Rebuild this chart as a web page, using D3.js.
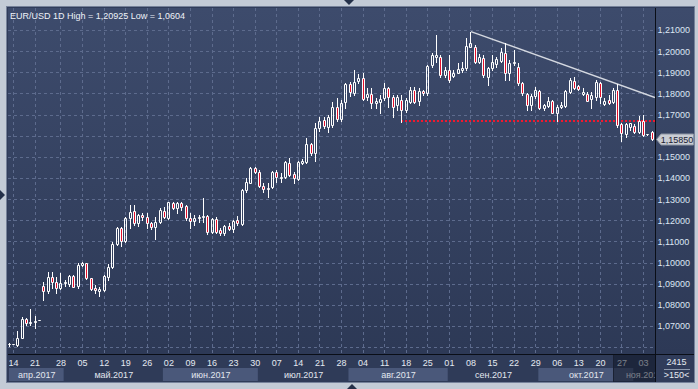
<!DOCTYPE html>
<html><head><meta charset="utf-8">
<script src="https://cdn.jsdelivr.net/npm/d3@7"></script>
<style>
html,body{margin:0;padding:0;background:#c3cbd6;}
svg{display:block;font-family:"Liberation Sans",Arial,sans-serif;}
</style></head><body>
<svg id="c" width="698" height="389"></svg>
<script>
// ---------- DATA ----------
const dates = [
"2017-04-13","2017-04-14","2017-04-17","2017-04-18","2017-04-19","2017-04-20","2017-04-21","2017-04-23",
"2017-04-24","2017-04-25","2017-04-26","2017-04-27","2017-04-28",
"2017-05-01","2017-05-02","2017-05-03","2017-05-04","2017-05-05",
"2017-05-08","2017-05-09","2017-05-10","2017-05-11","2017-05-12",
"2017-05-15","2017-05-16","2017-05-17","2017-05-18","2017-05-19",
"2017-05-22","2017-05-23","2017-05-24","2017-05-25","2017-05-26",
"2017-05-29","2017-05-30","2017-05-31","2017-06-01","2017-06-02",
"2017-06-05","2017-06-06","2017-06-07","2017-06-08","2017-06-09",
"2017-06-12","2017-06-13","2017-06-14","2017-06-15","2017-06-16",
"2017-06-19","2017-06-20","2017-06-21","2017-06-22","2017-06-23",
"2017-06-26","2017-06-27","2017-06-28","2017-06-29","2017-06-30",
"2017-07-03","2017-07-04","2017-07-05","2017-07-06","2017-07-07",
"2017-07-10","2017-07-11","2017-07-12","2017-07-13","2017-07-14",
"2017-07-17","2017-07-18","2017-07-19","2017-07-20","2017-07-21",
"2017-07-24","2017-07-25","2017-07-26","2017-07-27","2017-07-28",
"2017-07-31","2017-08-01","2017-08-02","2017-08-03","2017-08-04",
"2017-08-07","2017-08-08","2017-08-09","2017-08-10","2017-08-11",
"2017-08-14","2017-08-15","2017-08-16","2017-08-17","2017-08-18",
"2017-08-21","2017-08-22","2017-08-23","2017-08-24","2017-08-25",
"2017-08-28","2017-08-29","2017-08-30","2017-08-31","2017-09-01",
"2017-09-04","2017-09-05","2017-09-06","2017-09-07","2017-09-08",
"2017-09-11","2017-09-12","2017-09-13","2017-09-14","2017-09-15",
"2017-09-18","2017-09-19","2017-09-20","2017-09-21","2017-09-22",
"2017-09-25","2017-09-26","2017-09-27","2017-09-28","2017-09-29",
"2017-10-02","2017-10-03","2017-10-04","2017-10-05","2017-10-06",
"2017-10-09","2017-10-10","2017-10-11","2017-10-12","2017-10-13",
"2017-10-16","2017-10-17","2017-10-18","2017-10-19","2017-10-20",
"2017-10-23","2017-10-24","2017-10-25","2017-10-26","2017-10-27",
"2017-10-30","2017-10-31","2017-11-01","2017-11-02","2017-11-03",
"2017-11-05","2017-11-06"];

const open = [
1.0617,1.0616,1.0612,1.0645,1.0731,1.0713,1.0718,1.0727,
1.0887,1.0866,1.0933,1.0907,1.0878,
1.0902,1.0898,1.0936,1.0890,1.0988,
1.0999,1.0925,1.0878,1.0866,1.0870,
1.0930,1.0977,1.1088,1.1162,1.1104,
1.1209,1.1244,1.1185,1.1225,1.1214,
1.1189,1.1167,1.1193,1.1245,1.1209,
1.1280,1.1256,1.1280,1.1267,1.1211,
1.1198,1.1209,1.1215,1.1220,1.1146,
1.1204,1.1154,1.1138,1.1173,1.1157,
1.1201,1.1182,1.1343,1.1378,1.1446,
1.1430,1.1362,1.1348,1.1356,1.1430,
1.1401,1.1403,1.1469,1.1419,1.1394,
1.1472,1.1477,1.1559,1.1517,1.1635,
1.1674,1.1643,1.1651,1.1737,1.1677,
1.1761,1.1843,1.1802,1.1857,1.1871,
1.1785,1.1796,1.1753,1.1761,1.1777,
1.1824,1.1785,1.1745,1.1769,1.1722,
1.1761,1.1816,1.1764,1.1811,1.1800,
1.1935,1.1974,1.1971,1.1887,1.1911,
1.1883,1.1898,1.1911,1.1919,1.2021,
1.2021,1.1950,1.1966,1.1879,1.1919,
1.1938,1.1955,1.1993,1.1895,1.1942,
1.1927,1.1851,1.1798,1.1747,1.1788,
1.1812,1.1733,1.1740,1.1764,1.1709,
1.1735,1.1742,1.1808,1.1860,1.1835,
1.1796,1.1797,1.1772,1.1785,1.1848,
1.1750,1.1769,1.1761,1.1816,1.1654,
1.1606,1.1643,1.1647,1.1619,1.1668,
1.1606,1.1619];

const high = [
1.0620,1.0617,1.0676,1.0744,1.0740,1.0778,1.0745,1.0729,
1.0906,1.0957,1.0954,1.0933,1.0949,
1.0917,1.0941,1.0941,1.0996,1.1004,
1.1000,1.0927,1.0894,1.0886,1.0941,
1.0993,1.1099,1.1170,1.1170,1.1214,
1.1272,1.1272,1.1230,1.1233,1.1236,
1.1193,1.1214,1.1256,1.1264,1.1288,
1.1288,1.1288,1.1288,1.1272,1.1232,
1.1223,1.1225,1.1304,1.1225,1.1209,
1.1214,1.1162,1.1178,1.1185,1.1201,
1.1220,1.1350,1.1398,1.1454,1.1454,
1.1438,1.1378,1.1375,1.1432,1.1438,
1.1422,1.1480,1.1493,1.1430,1.1482,
1.1488,1.1588,1.1564,1.1660,1.1690,
1.1690,1.1700,1.1760,1.1780,1.1768,
1.1848,1.1856,1.1911,1.1893,1.1895,
1.1824,1.1824,1.1777,1.1792,1.1848,
1.1832,1.1793,1.1793,1.1793,1.1777,
1.1832,1.1832,1.1824,1.1816,1.1934,
1.1990,1.2076,1.1982,1.1927,1.1982,
1.1911,1.1942,1.1950,1.2063,1.20925,
1.2029,1.1986,1.1982,1.1927,1.1982,
1.1974,1.2013,1.2037,1.1958,1.2005,
1.1942,1.1856,1.1804,1.1797,1.1829,
1.1816,1.1750,1.1785,1.1769,1.1745,
1.1761,1.1816,1.1875,1.1879,1.1840,
1.1824,1.1808,1.1808,1.1863,1.1852,
1.1777,1.1793,1.1824,1.1844,1.1658,
1.1658,1.1662,1.1654,1.1695,1.1696,
1.1607,1.1623];

const low = [
1.0604,1.0615,1.0607,1.0644,1.0704,1.0706,1.0690,1.0726,
1.0825,1.0854,1.0880,1.0854,1.0873,
1.0890,1.0891,1.0883,1.0878,1.0984,
1.0920,1.0870,1.0856,1.0842,1.0866,
1.0917,1.0973,1.1083,1.1078,1.1099,
1.1162,1.1178,1.1173,1.1201,1.1162,
1.1157,1.1110,1.1185,1.1209,1.1204,
1.1252,1.1236,1.1249,1.1201,1.1165,
1.1179,1.1190,1.1193,1.1135,1.1141,
1.1141,1.1130,1.1130,1.1154,1.1146,
1.1178,1.1178,1.1335,1.1375,1.1425,
1.1356,1.1335,1.1309,1.1351,1.1383,
1.1383,1.1398,1.1410,1.1375,1.1391,
1.1465,1.1473,1.1509,1.1480,1.1622,
1.1635,1.1616,1.1643,1.1670,1.1670,
1.1729,1.1788,1.1793,1.1848,1.1769,
1.1769,1.1729,1.1729,1.1706,1.1769,
1.1737,1.1690,1.1722,1.1664,1.1714,
1.1753,1.1753,1.1745,1.1793,1.1793,
1.1927,1.1950,1.1879,1.1879,1.1856,
1.1879,1.1895,1.1903,1.1911,1.2018,
1.1942,1.1942,1.1879,1.1840,1.1911,
1.1927,1.1950,1.1863,1.1863,1.1934,
1.1840,1.1792,1.1721,1.1720,1.1780,
1.1726,1.1720,1.1734,1.1706,1.1669,
1.1729,1.1737,1.1800,1.1823,1.1816,
1.1793,1.1762,1.1729,1.1769,1.1757,
1.1745,1.1750,1.1756,1.1643,1.1576,
1.1595,1.1627,1.1611,1.1611,1.1599,
1.1605,1.1581];

const close = [
1.0616,1.0616,1.0645,1.0733,1.0714,1.0719,1.0725,1.0728,
1.0866,1.0933,1.0906,1.0878,1.0904,
1.0909,1.0936,1.0886,1.0988,1.0999,
1.0925,1.0876,1.0868,1.0873,1.0936,
1.0977,1.1088,1.1162,1.1104,1.1209,
1.1241,1.1185,1.1225,1.1214,1.1185,
1.1167,1.1193,1.1248,1.1217,1.1285,
1.1256,1.1280,1.1261,1.1209,1.1198,
1.1211,1.1217,1.1221,1.1146,1.1204,
1.1146,1.1138,1.1173,1.1157,1.1198,
1.1185,1.1345,1.1383,1.1446,1.1430,
1.1362,1.1346,1.1352,1.1430,1.1403,
1.1406,1.1477,1.1414,1.1398,1.1477,
1.1480,1.1559,1.1517,1.1638,1.1669,
1.1646,1.1688,1.1737,1.1679,1.1753,
1.1843,1.1805,1.1856,1.1872,1.1772,
1.1797,1.1753,1.1766,1.1772,1.1824,
1.1785,1.1737,1.1785,1.1722,1.1769,
1.1816,1.1761,1.1811,1.1800,1.1930,
1.1982,1.1982,1.1887,1.1911,1.1863,
1.1895,1.1914,1.1919,1.2022,1.2037,
1.1950,1.1974,1.1887,1.1919,1.1950,
1.1961,1.1998,1.1895,1.1942,1.1950,
1.1848,1.1800,1.1747,1.1788,1.1816,
1.1733,1.1745,1.1764,1.1709,1.1737,
1.1745,1.1811,1.1863,1.1827,1.1821,
1.1806,1.1764,1.1792,1.1856,1.1785,
1.1764,1.1756,1.1816,1.1651,1.1611,
1.1654,1.1658,1.1619,1.1671,1.1604,
1.1606,1.1585];

const yTicks = [1.07,1.08,1.09,1.10,1.11,1.12,1.13,1.14,1.15,1.16,1.17,1.18,1.19,1.20,1.21];
const gridLevels = [1.06,1.07,1.08,1.09,1.10,1.11,1.12,1.13,1.14,1.15,1.16,1.17,1.18,1.19,1.20,1.21];
const months = ["2017-04","2017-05","2017-06","2017-07","2017-08","2017-09","2017-10","2017-11"];
const monthLabels = ["апр.2017","май.2017","июн.2017","июл.2017","авг.2017","сен.2017","окт.2017","ноя.2017"];
const trendDates = ["2017-09-08","2017-10-26"];
const trendValues = [1.20925,1.1844];
const supportFrom = "2017-08-17";
const supportLevel = 1.1668;
const shadeFrom = "2017-10-25";
const titlePrefix = "EUR/USD 1D";
const barsTotal = "2415";
const barsShown = ">150<";

// ---------- LAYOUT ----------
const plot = {l:8, r:655, t:8, b:354};
const panel = {l:7, r:694, t:7, b:382};
const svg = d3.select("#c");
const x = d3.scalePoint().domain(dates).range([8.7, 651.7]);
const y = d3.scaleLinear().domain([1.06, 1.21]).range([347.1, 30]);
const step = x.step();
const comma = f => v => d3.format(f)(v).replace(".", ",");

const defs = svg.append("defs");
const g = defs.append("linearGradient").attr("id","bg").attr("gradientUnits","userSpaceOnUse")
  .attr("x1",0).attr("y1",plot.t).attr("x2",0).attr("y2",plot.b);
g.append("stop").attr("offset",0).attr("stop-color","#3d4b6c");
g.append("stop").attr("offset",1).attr("stop-color","#2d3956");
defs.append("clipPath").attr("id","pc").append("rect")
  .attr("x",plot.l).attr("y",plot.t).attr("width",plot.r-plot.l).attr("height",plot.b-plot.t);
defs.append("clipPath").attr("id","ac").append("rect")
  .attr("x",plot.l+1).attr("y",plot.b).attr("width",plot.r-plot.l-1).attr("height",panel.b-plot.b);

svg.append("rect").attr("width",698).attr("height",389).attr("fill","#c3cbd6");
svg.append("rect").attr("x",panel.l-0.5).attr("y",panel.t-0.5)
  .attr("width",panel.r-panel.l+1).attr("height",panel.b-panel.t+1)
  .attr("fill","#303c5a").attr("stroke","#76829a");
svg.append("rect").attr("x",plot.l).attr("y",plot.t).attr("width",panel.r-plot.l).attr("height",plot.b-plot.t)
  .attr("fill","url(#bg)");

// ---------- GRID ----------
const fridays = dates.filter(d => new Date(d+"T00:00:00Z").getUTCDay() === 5);
const grid = svg.append("g").attr("clip-path","url(#pc)")
  .attr("stroke","#5d6b8d").attr("stroke-width",1).attr("stroke-dasharray","3,3");
grid.selectAll("line.h").data(gridLevels).join("line").attr("class","h")
  .attr("x1",plot.l).attr("x2",plot.r)
  .attr("y1",d=>Math.round(y(d))+0.5).attr("y2",d=>Math.round(y(d))+0.5);
grid.selectAll("line.v").data(fridays).join("line").attr("class","v")
  .attr("x1",d=>Math.round(x(d))+0.5).attr("x2",d=>Math.round(x(d))+0.5)
  .attr("y1",plot.t).attr("y2",plot.b);

// ---------- LINES ----------
const lines = svg.append("g").attr("clip-path","url(#pc)");
lines.append("line")
  .attr("x1",Math.round(x(supportFrom))).attr("x2",plot.r)
  .attr("y1",Math.round(y(supportLevel))).attr("y2",Math.round(y(supportLevel)))
  .attr("stroke","#f0182f").attr("stroke-width",2).attr("stroke-dasharray","2,2");

const tx0 = x(trendDates[0])+0.5, ty0 = y(trendValues[0]);
const tx1 = x(trendDates[1])+0.5, ty1 = y(trendValues[1]);
const slope = (ty1-ty0)/(tx1-tx0);
lines.append("line").attr("x1",tx0).attr("y1",ty0)
  .attr("x2",plot.r).attr("y2",ty0 + slope*(plot.r-tx0))
  .attr("stroke","#d4d8e0").attr("stroke-width",1.4);

// ---------- CANDLES ----------
const bars = dates.map((d,i)=>({d,o:open[i],h:high[i],l:low[i],c:close[i]}));
const cg = svg.append("g").attr("clip-path","url(#pc)");
bars.forEach(b=>{
  const xc = Math.round(x(b.d));
  const top = Math.round(y(Math.max(b.o,b.c)));
  const bot = Math.round(y(Math.min(b.o,b.c)));
  const yh = Math.round(y(Math.max(b.h,b.o,b.c)));
  const yl = Math.round(y(Math.min(b.l,b.o,b.c)));
  const wx = xc+0.5;
  if (yh < top) cg.append("line").attr("x1",wx).attr("x2",wx).attr("y1",yh).attr("y2",top)
      .attr("stroke","#ffffff").attr("stroke-width",1);
  if (yl > bot) cg.append("line").attr("x1",wx).attr("x2",wx).attr("y1",bot+1).attr("y2",yl+1)
      .attr("stroke","#ffffff").attr("stroke-width",1);
  const bear = b.c < b.o;
  cg.append("path")
    .attr("d",`M${xc-0.5},${top+0.5}H${xc+1.5}V${bot+0.5}H${xc-0.5}Z`)
    .attr("fill", bear ? "#e3102c" : "none")
    .attr("stroke","#ffffff").attr("stroke-width",1);
});

// ---------- DIVIDERS ----------
svg.append("line").attr("x1",plot.r+0.5).attr("x2",plot.r+0.5).attr("y1",plot.t).attr("y2",panel.b)
  .attr("stroke","#0a0e17");

// ---------- Y AXIS ----------
const last = close[close.length-1];
const pl = Math.round(y(last))+0.5;
const visibleTicks = yTicks.filter(v => Math.abs(y(v) - pl) > 9);
const yAxis = svg.append("g").attr("transform",`translate(${plot.r},0)`)
  .call(d3.axisRight(y).tickValues(visibleTicks).tickFormat(comma(".5f")).tickSize(0).tickPadding(2.5));
yAxis.select(".domain").remove();
yAxis.selectAll("text").attr("fill","#dde6f3").attr("font-size","9px")
  .attr("font-family","'Liberation Sans',Arial,sans-serif");

// price label
svg.append("polygon")
  .attr("points",[[656.5,pl],[661,pl-5.5],[693.5,pl-5.5],[693.5,pl+5.5],[661,pl+5.5]].map(p=>p.join(",")).join(" "))
  .attr("fill","#c9cdd4").attr("stroke","#8c94a2");
svg.append("text").attr("x",677).attr("y",pl).attr("dy","0.34em").attr("text-anchor","middle")
  .attr("font-size","9px").attr("fill","#1a2132").text(comma(".5f")(last));

// ---------- BOTTOM AXIS ----------
const ax = svg.append("g").attr("clip-path","url(#ac)");
ax.append("rect").attr("x",plot.l).attr("y",plot.b).attr("width",plot.r-plot.l).attr("height",panel.b-plot.b)
  .attr("fill","#2f3b58");
const mg = d3.groups(dates, d=>d.slice(0,7));
mg.forEach(([m,ds])=>{
  const i = months.indexOf(m);
  const x0 = Math.max(plot.l, x(ds[0]) - step/2);
  const x1 = x(ds[ds.length-1]) + step/2;
  if (i % 2 === 0) ax.append("rect").attr("x",x0+1).attr("y",368).attr("width",x1-x0).attr("height",13)
    .attr("fill","#4a587a");
  ax.append("text").attr("x",(x0+x1)/2+1.5).attr("y",377.5).attr("text-anchor","middle")
    .attr("font-size","9px").attr("fill","#e2e7ef").text(monthLabels[i]);
});
const xAxis = ax.append("g").attr("transform",`translate(0,${plot.b})`)
  .call(d3.axisBottom(x).tickValues(fridays).tickFormat(d=>d.slice(8)).tickSize(0).tickPadding(5.5));
xAxis.select(".domain").remove();
xAxis.selectAll("text").attr("fill","#e4e9f1").attr("font-size","9px")
  .attr("font-family","'Liberation Sans',Arial,sans-serif");
const sx = Math.round(x(shadeFrom))+0.5;
ax.append("rect").attr("x",sx).attr("y",plot.b).attr("width",plot.r-sx).attr("height",panel.b-plot.b)
  .attr("fill","#0c1120").attr("fill-opacity",0.5);
ax.append("line").attr("x1",sx).attr("x2",sx).attr("y1",plot.b).attr("y2",panel.b).attr("stroke","#1a2133");

svg.append("line").attr("x1",plot.l).attr("x2",panel.r).attr("y1",plot.b+0.5).attr("y2",plot.b+0.5)
  .attr("stroke","#0a0e17");

// bottom-right box
svg.append("text").attr("x",676.5).attr("y",365).attr("text-anchor","middle")
  .attr("font-size","9px").attr("fill","#e6ebf2").text(barsTotal);
svg.append("line").attr("x1",664).attr("x2",690).attr("y1",369.5).attr("y2",369.5).attr("stroke","#8d99ad");
svg.append("text").attr("x",676.5).attr("y",377.5).attr("text-anchor","middle")
  .attr("font-size","9px").attr("fill","#e6ebf2").text(barsShown);

// ---------- TITLE ----------
const hi = d3.max(high), lo = d3.min(low);
svg.append("text").attr("x",10).attr("y",18.5).attr("font-size","9px").attr("fill","#eef2f8")
  .text(`${titlePrefix} High = ${comma(".5~f")(hi)} Low = ${comma(".5~f")(lo)}`);

// frame arrows
svg.append("polygon").attr("points","344,0 354,0 349,5").attr("fill","#243049");
svg.append("polygon").attr("points","347,389 357,389 352,384").attr("fill","#243049");
svg.append("polygon").attr("points","0,190 0,200 5,195").attr("fill","#243049");
</script>
</body></html>
